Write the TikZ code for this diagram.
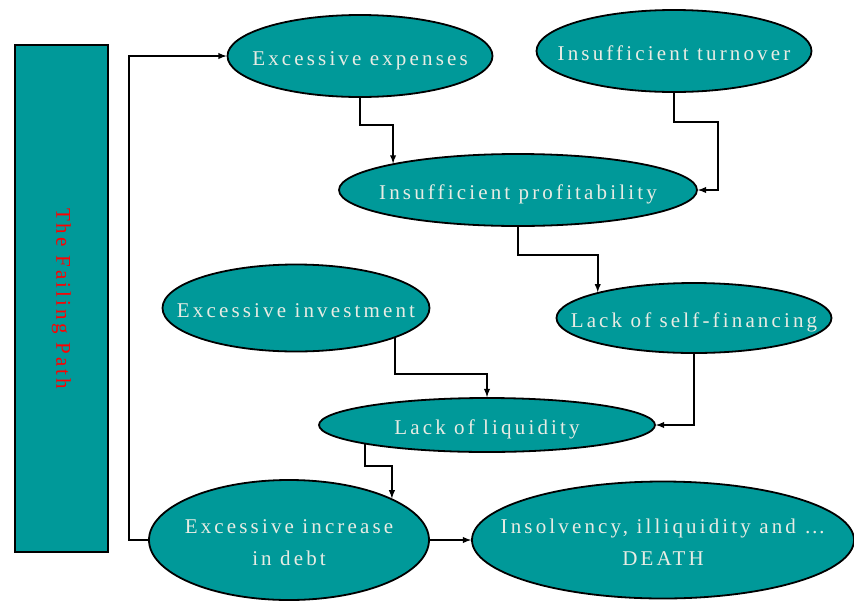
\documentclass[tikz,border=0pt]{standalone}
\usepackage{fontspec}
\setmainfont{Liberation Serif}
\newfontfamily\wide[LetterSpace=15]{Liberation Serif}
\usetikzlibrary{arrows}
\usetikzlibrary{shapes}
\usetikzlibrary{positioning}
\definecolor{pathteal}{RGB}{0,153,153}
\definecolor{pathtext}{RGB}{232,236,228}
\newcommand{\lbl}[1]{\makebox[0pt]{\smash{\raisebox{-8pt}{\begin{tabular}{@{}c@{}}#1\end{tabular}}}}}

\begin{document}
\begin{tikzpicture}[x=1pt,y=-1pt,>=latex,
        every node/.style={line width=1.8pt},
        cause/.style={ellipse,draw,fill=pathteal,inner sep=0pt,text=pathtext,
            font=\wide\fontsize{21}{32}\selectfont},
        bar/.style={rectangle,draw,fill=pathteal,text=red,rotate=-90,
            font=\wide\fontsize{21}{23}\selectfont},
        link/.style={->,line width=1.8pt}]

    \useasboundingbox (0,0) rectangle (854,603);

    \node[bar,minimum width=507pt,minimum height=93pt] (failing) at (61.5,298.5) {The Failing Path};

    \node[cause,minimum width=265pt,minimum height=82pt] (expenses) at (360,56) {\lbl{Excessive expenses}};
    \node[cause,minimum width=275pt,minimum height=82pt] (turnover) at (674,51) {\lbl{Insufficient turnover}};
    \node[cause,minimum width=358pt,minimum height=72pt] (profit) at (518,190) {\lbl{Insufficient profitability}};
    \node[cause,minimum width=267pt,minimum height=87pt] (invest) at (296,308) {\lbl{Excessive investment}};
    \node[cause,minimum width=275pt,minimum height=70pt] (selffin) at (694,318) {\lbl{Lack of self-financing}};
    \node[cause,minimum width=336pt,minimum height=54pt] (liquidity) at (487,425) {\lbl{Lack of liquidity}};
    \node[cause,minimum width=280pt,minimum height=120pt] (debt) at (289,540) {\lbl{Excessive increase\\in debt}};
    \node[cause,minimum width=382pt,minimum height=117pt] (insolv) at (663,540) {\lbl{Insolvency, illiquidity and …\\DEATH}};

    \draw[link] (debt.west) -- ++(-19,0) |- (expenses.west);
    \draw[link] (expenses.south) -- ++(0,27) -| (profit.168.5);
    \draw[link] (turnover.south) -- ++(0,29) -- ++(44,0) |- (profit.east);
    \draw[link] (profit.south) -- ++(0,28) -| (selffin.165);
    \draw[link] (invest.-17.8) -- ++(0,36) -| (liquidity.north);
    \draw[link] (selffin.south) |- (liquidity.east);
    \draw[link] (liquidity.189) -- ++(0,22) -| (debt.22.8);
    \draw[link] (debt.east) -- (insolv.west);
\end{tikzpicture}
\end{document}
